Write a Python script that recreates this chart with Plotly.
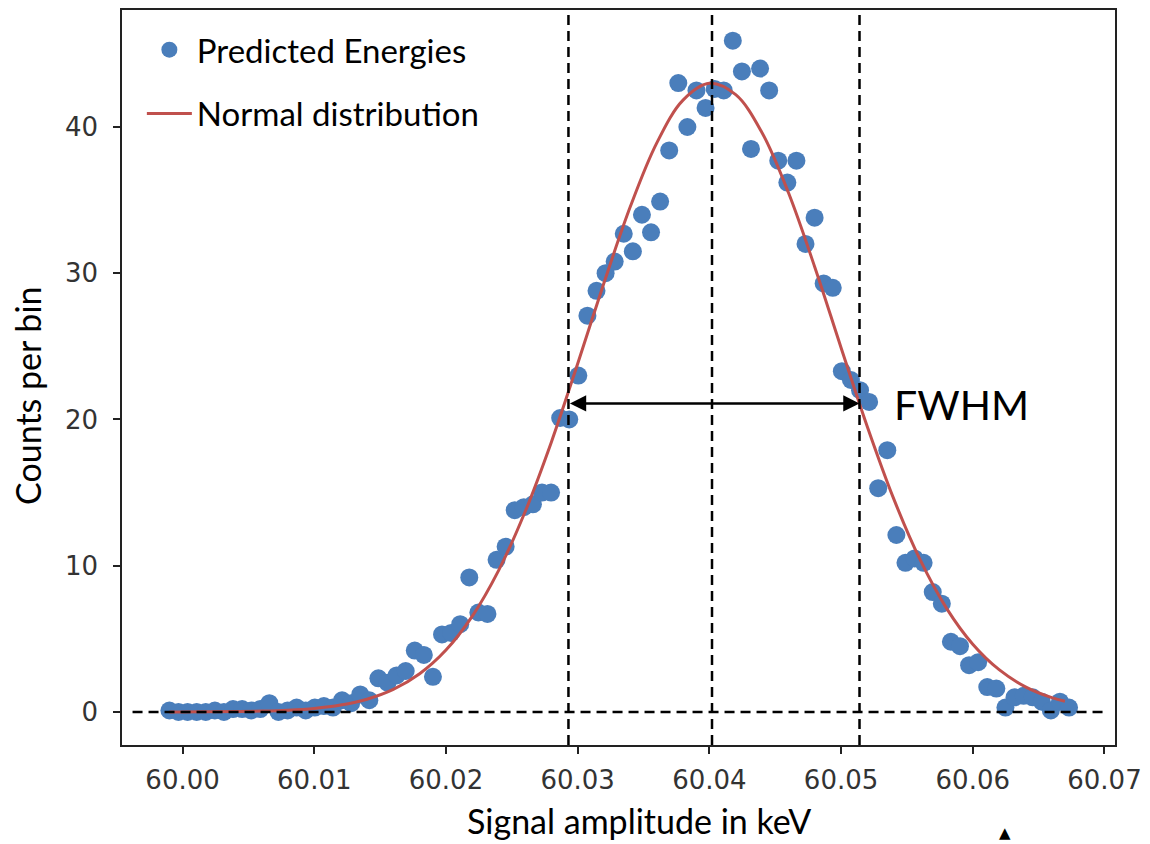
import plotly.graph_objects as go

# ---------------- data ----------------
bin_centers = [
    59.99900, 59.99969, 60.00038, 60.00107, 60.00176, 60.00245, 60.00314, 60.00383, 60.00452, 60.00521,
    60.00590, 60.00659, 60.00728, 60.00797, 60.00866, 60.00935, 60.01004, 60.01073, 60.01142, 60.01211,
    60.01280, 60.01349, 60.01418, 60.01487, 60.01556, 60.01625, 60.01694, 60.01763, 60.01832, 60.01901,
    60.01970, 60.02039, 60.02108, 60.02177, 60.02246, 60.02315, 60.02384, 60.02453, 60.02522, 60.02591,
    60.02660, 60.02729, 60.02798, 60.02867, 60.02936, 60.03005, 60.03074, 60.03143, 60.03212, 60.03281,
    60.03350, 60.03419, 60.03488, 60.03557, 60.03626, 60.03695, 60.03764, 60.03833, 60.03902, 60.03971,
    60.04040, 60.04109, 60.04178, 60.04247, 60.04316, 60.04385, 60.04454, 60.04523, 60.04592, 60.04661,
    60.04730, 60.04799, 60.04868, 60.04937, 60.05006, 60.05075, 60.05144, 60.05213, 60.05282, 60.05351,
    60.05420, 60.05489, 60.05558, 60.05627, 60.05696, 60.05765, 60.05834, 60.05903, 60.05972, 60.06041,
    60.06110, 60.06179, 60.06248, 60.06317, 60.06386, 60.06455, 60.06524, 60.06593, 60.06662, 60.06731,
]
counts = [
    0.1, 0.0, 0.0, 0.0, 0.0, 0.1, 0.0, 0.2, 0.2, 0.1,
    0.2, 0.6, 0.0, 0.1, 0.3, 0.1, 0.3, 0.4, 0.3, 0.8,
    0.6, 1.2, 0.8, 2.3, 2.0, 2.5, 2.8, 4.2, 3.9, 2.4,
    5.3, 5.4, 6.0, 9.2, 6.8, 6.7, 10.4, 11.3, 13.8, 14.0,
    14.2, 15.0, 15.0, 20.1, 20.0, 23.0, 27.1, 28.8, 30.0, 30.8,
    32.7, 31.5, 34.0, 32.8, 34.9, 38.4, 43.0, 40.0, 42.5, 41.3,
    42.6, 42.5, 45.9, 43.8, 38.5, 44.0, 42.5, 37.7, 36.2, 37.7,
    32.0, 33.8, 29.3, 29.0, 23.3, 22.7, 22.0, 21.2, 15.3, 17.9,
    12.1, 10.2, 10.5, 10.2, 8.2, 7.4, 4.8, 4.5, 3.2, 3.4,
    1.7, 1.6, 0.3, 1.0, 1.1, 1.0, 0.7, 0.1, 0.7, 0.3,
]

fit_x = [
    59.999, 60.000, 60.002, 60.004, 60.006, 60.008, 60.010, 60.012, 60.014, 60.016,
    60.018, 60.020, 60.022, 60.024, 60.026, 60.028, 60.030, 60.032, 60.034, 60.036,
    60.038, 60.040, 60.042, 60.044, 60.046, 60.048, 60.050, 60.052, 60.054, 60.056,
    60.058, 60.060, 60.062, 60.064, 60.066, 60.067,
]
fit_y = [
    0.00, 0.00, 0.01, 0.03, 0.06, 0.12, 0.24, 0.47, 0.87, 1.54,
    2.61, 4.23, 6.55, 9.68, 13.67, 18.45, 23.81, 29.35, 34.56, 38.90,
    41.84, 42.99, 42.21, 39.61, 35.52, 30.43, 24.91, 19.49, 14.57, 10.41,
    7.10, 4.63, 2.89, 1.72, 0.98, 0.73,
]

FWHM_LEFT = 60.0293
PEAK = 60.0402
FWHM_RIGHT = 60.0514
HALF_MAX = 21.1
ZERO_LINE_X = [59.9962, 60.0701]

x_ticks = [60.00, 60.01, 60.02, 60.03, 60.04, 60.05, 60.06, 60.07]
x_tick_labels = ["60.00", "60.01", "60.02", "60.03", "60.04", "60.05", "60.06", "60.07"]
y_ticks = [0, 10, 20, 30, 40]
y_tick_labels = ["0", "10", "20", "30", "40"]

# ---------------- figure ----------------
BLUE = "#4A7EBB"
RED = "#C0504D"
TEXT_FONT = "Lato, 'Open Sans', sans-serif"
TICK_FONT = "DejaVu Sans, sans-serif"

fig = go.Figure()
fig.add_trace(go.Scatter(
    x=bin_centers, y=counts, mode="markers", name="Predicted Energies",
    legendgroup="g1",
    marker=dict(size=18, color=BLUE, line=dict(width=0)),
))
fig.add_trace(go.Scatter(
    x=fit_x, y=fit_y, mode="lines", name="Normal distribution",
    legendgroup="g2",
    line=dict(color=RED, width=3, shape="spline"),
))

dash = dict(color="black", width=2.5, dash="10px,6px")
shapes = [
    dict(type="line", xref="x", yref="paper", x0=FWHM_LEFT, x1=FWHM_LEFT, y0=0, y1=1, line=dash),
    dict(type="line", xref="x", yref="paper", x0=PEAK, x1=PEAK, y0=0, y1=1, line=dash),
    dict(type="line", xref="x", yref="paper", x0=FWHM_RIGHT, x1=FWHM_RIGHT, y0=0, y1=1, line=dash),
    dict(type="line", xref="x", yref="y", x0=ZERO_LINE_X[0], x1=ZERO_LINE_X[1], y0=0, y1=0, line=dash),
]

annotations = [
    dict(x=FWHM_RIGHT, y=HALF_MAX, ax=FWHM_LEFT, ay=HALF_MAX, xref="x", yref="y", axref="x", ayref="y",
         text="", showarrow=True, arrowhead=2, arrowside="end+start", arrowsize=1.3,
         arrowwidth=2.5, arrowcolor="black", standoff=0, startstandoff=0),
    dict(x=60.0539, y=21.0, xref="x", yref="y", text="FWHM", showarrow=False,
         xanchor="left", yanchor="middle", font=dict(family=TEXT_FONT, size=41, color="black")),
    dict(x=0.5207, y=-0.1034, xref="paper", yref="paper", text="Signal amplitude in keV",
         showarrow=False, xanchor="center", yanchor="middle",
         font=dict(family=TEXT_FONT, size=34, color="black")),
    dict(x=-0.0947, y=0.4762, xref="paper", yref="paper", text="Counts per bin", textangle=-90,
         showarrow=False, xanchor="center", yanchor="middle",
         font=dict(family=TEXT_FONT, size=34, color="black")),
    dict(x=0.889, y=-0.1197, xref="paper", yref="paper", text="▲", showarrow=False,
         xanchor="center", yanchor="middle", font=dict(family=TICK_FONT, size=15, color="black")),
]

axis_common = dict(
    showgrid=False, zeroline=False, showline=True, linecolor="#222", linewidth=1.5, mirror=True,
    ticks="outside", ticklen=7, tickwidth=1.5, tickcolor="#222",
    tickfont=dict(family=TICK_FONT, size=26, color="#333"),
)

fig.update_layout(
    width=1150, height=844,
    margin=dict(l=122, r=35, t=10, b=99, autoexpand=False),
    paper_bgcolor="white", plot_bgcolor="white",
    xaxis=dict(range=[59.9954, 60.0708], tickvals=x_ticks, ticktext=x_tick_labels,
               ticklabelstandoff=4, **axis_common),
    yaxis=dict(range=[-2.26, 48.0], tickvals=y_ticks, ticktext=y_tick_labels,
               ticklabelstandoff=10, **axis_common),
    showlegend=True,
    legend=dict(x=0.020, y=0.984, xanchor="left", yanchor="top", bgcolor="rgba(0,0,0,0)",
                font=dict(family=TEXT_FONT, size=33, color="black"), tracegroupgap=18,
                traceorder="grouped", itemwidth=45),
    shapes=shapes,
    annotations=annotations,
)

fig.write_html("out.html", config={"displayModeBar": False},
               post_script="document.body.style.margin='0';document.body.style.overflow='hidden';")
